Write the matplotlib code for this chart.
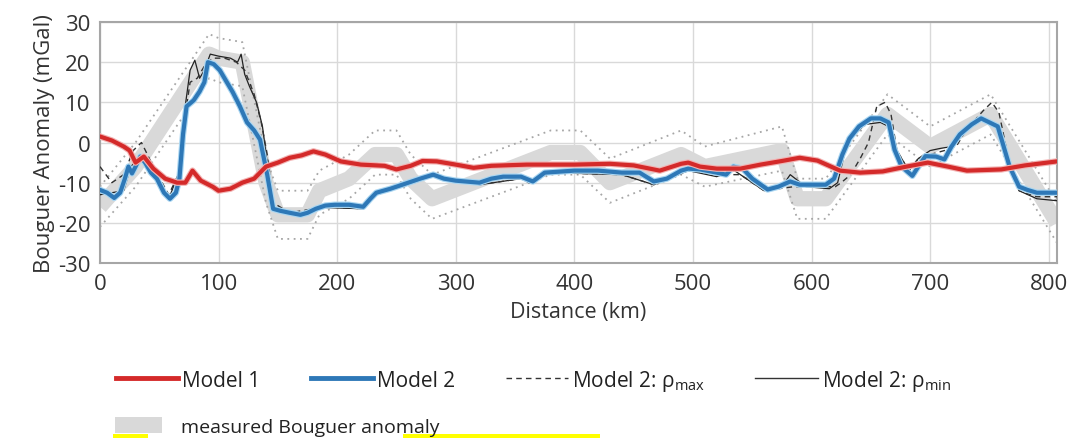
import matplotlib
matplotlib.use("Agg")
import matplotlib.pyplot as plt
import matplotlib.patheffects as pe
from matplotlib.lines import Line2D
from matplotlib.patches import Patch, Rectangle

plt.rcParams["font.family"] = ["Open Sans", "DejaVu Sans"]
plt.rcParams["axes.unicode_minus"] = False

# measured Bouguer anomaly (band centre) and its dotted envelope
meas_x = [0, 30, 92, 100, 120, 140, 150, 175, 185, 210, 232, 250, 262, 280, 380, 405,
          430, 490, 510, 575, 588, 612, 664, 700, 751, 807]
meas_y = [-16, -6, 22, 21, 20, -10, -18, -18, -12, -9, -3, -3, -9, -14, -2.5, -2.5,
          -10, -3, -6, -2, -14, -14, 7, -1, 7, -20]
env_hi = [-11, 0, 27, 26, 25, -4, -12, -12, -7, -3, 3, 3, -3, -8, 3, 3,
          -4, 3, -1, 4, -9, -9, 12, 4, 12, -15]
env_lo = [-21, -11, 16, 15, 14, -15, -24, -24, -18, -14, -8, -8, -14, -19, -8, -8,
          -15, -8, -11, -7, -19, -19, 2, -6, 2, -25]

# Model 1
m1_x = [0, 10, 20, 25, 30, 37, 45, 55, 65, 72, 78, 85, 95, 100, 110, 120, 130, 140,
        150, 160, 170, 180, 190, 203, 220, 240, 250, 262, 272, 284, 300, 315, 330, 360,
        400, 430, 450, 472, 490, 496, 506, 520, 540, 557, 575, 590, 605, 624, 641, 660,
        680, 698, 715, 731, 760, 780, 807]
m1_y = [1.5, 0.5, -1, -2, -5, -3.5, -6.5, -9, -10, -10, -7, -9.5, -11, -12, -11.5, -10, -9, -6,
        -5, -3.8, -3.2, -2.2, -3, -4.7, -5.5, -5.8, -6.7, -5.8, -4.6, -4.7, -5.5, -6.3, -5.8, -5.5,
        -5.5, -5.3, -5.7, -7, -5.3, -5, -6, -6.5, -6.5, -5.5, -4.6, -3.8, -4.5, -7, -7.5, -7.2,
        -6, -5, -6, -7, -6.7, -5.7, -4.7]

# Model 2
m2_x = [0, 6, 12, 17, 21, 24, 27, 30, 34, 38, 43, 48, 54, 59, 64, 67, 70, 73, 79, 84,
        88, 91, 96, 101, 106, 112, 118, 124, 130, 135, 141, 146, 152, 160, 169, 175, 182, 190,
        198, 210, 222, 228, 233, 245, 255, 270, 281, 290, 300, 320, 330, 340, 355, 365, 375,
        400, 420, 440, 455, 467, 478, 490, 496, 506, 520, 528, 534, 542, 550, 563, 572, 582,
        590, 600, 612, 619, 626, 632, 640, 650, 658, 665, 670, 676, 685, 690, 696, 705, 712,
        718, 725, 735, 743, 750, 757, 762, 767, 775, 782, 790, 800, 807]
m2_y = [-11.8, -12.5, -13.8, -12.5, -9, -6, -7.7, -6, -3.5, -5, -7.5, -9, -12.5, -14, -12.5, -9, 2, 9, 10.5, 12.7,
        15, 20, 19.5, 18, 15.5, 12.5, 9, 5, 3, 0.7, -8, -16.5, -17, -17.5, -18, -17.5, -16.5, -15.7,
        -15.5, -15.5, -16, -14, -12.5, -11.5, -10.5, -9, -8, -9, -9.5, -10, -9, -8.5, -8.5, -9.7, -7.5,
        -7, -7, -7.5, -7.5, -9.7, -9, -7, -6.5, -6.7, -7.5, -8, -6, -6.5, -9, -11.7, -11, -9.7,
        -10.5, -10.5, -10.5, -9, -3, 1, 4, 6, 6, 5, -1.8, -6, -8.3, -6, -3.4, -3.5, -4.2,
        -1, 2, 4.5, 6, 5, 4, -1, -6, -11, -11.8, -12.5, -12.5, -12.5]

# Model 2: rho_max (dashed)
rmax_x = [0, 10, 20, 28, 35, 45, 58, 66, 70, 76, 82, 88, 95, 105, 115, 122, 130, 136,
          141, 146, 160, 190, 222, 233, 255, 280, 320, 355, 362, 380, 440, 467, 496, 520,
          540, 560, 585, 600, 620, 625, 633, 641, 648, 655, 662, 667, 672, 682, 690, 700,
          712, 722, 730, 745, 752, 758, 766, 775, 790, 807]
rmax_y = [-6, -10, -8, -2, 0, -6, -13, -8, 3, 15, 16, 19, 21, 21, 20, 18, 12, 5,
          -3, -15, -17.5, -16, -16.5, -13, -11, -8.5, -10.5, -9, -10, -7.5, -8, -10.5, -7, -8,
          -8, -12, -11, -11, -11, -10, -8, -4, 0, 9, 10, 7, -2, -7, -4, -3,
          -2, -1, 3, 8, 10, 7.5, -4, -12, -13.5, -13.5]

# Model 2: rho_min (thin solid)
rmin_x = [0, 20, 26, 36, 45, 58, 66, 70, 76, 80, 84, 88, 93, 100, 110, 116, 119, 122,
          126, 132, 137, 141, 146, 160, 190, 222, 233, 255, 280, 320, 355, 362, 380, 440,
          467, 496, 520, 535, 550, 560, 575, 582, 595, 615, 622, 630, 645, 658, 665, 672,
          682, 690, 700, 708, 718, 728, 743, 755, 765, 775, 790, 807]
rmin_y = [-13, -12, -6, -3, -8, -14, -8, 5, 18, 20.5, 16, 18, 22, 21.5, 21, 20, 22, 17,
          14, 10, 4, -5, -16, -18, -16.2, -16.5, -13, -11, -8.5, -10.5, -9, -10, -7.5, -8,
          -10.5, -7, -8.5, -7, -10, -12, -11, -8, -11, -11.5, -10, 0, 4.5, 5, 4, -2,
          -7, -4, -2, -1.5, -1, 2.5, 5.5, 4, -3, -12, -14, -14.5]

fig = plt.figure(figsize=(10.75, 4.39), dpi=100)
ax = fig.add_axes([0.093, 0.3986, 0.8903, 0.549])

ax.plot(meas_x, meas_y, color="#d9d9d9", lw=11, solid_joinstyle="round",
        solid_capstyle="butt", zorder=1)
ax.plot(meas_x, env_hi, color="#a6a6a6", lw=1.3, ls=(0, (1, 2.5)), zorder=2)
ax.plot(meas_x, env_lo, color="#a6a6a6", lw=1.3, ls=(0, (1, 2.5)), zorder=2)
ax.plot(rmin_x, rmin_y, color="#222222", lw=0.9, zorder=3)
ax.plot(rmax_x, rmax_y, color="#333333", lw=1.0, ls=(0, (4, 3)), zorder=3)
ax.plot(m2_x, m2_y, color="#2e78b7", lw=3.0, zorder=4,
        path_effects=[pe.Stroke(linewidth=4.6, foreground="#a9d6f2"), pe.Normal()])
ax.plot(m1_x, m1_y, color="#d42a2a", lw=3.0, zorder=5,
        path_effects=[pe.Stroke(linewidth=4.6, foreground="#f2b3b3"), pe.Normal()])

ax.set_xlim(0, 807)
ax.set_ylim(-30, 30)
ax.set_xticks(range(0, 801, 100))
ax.set_yticks(range(-30, 31, 10))
ax.grid(True, color="#d9d9d9", lw=1)
ax.set_axisbelow(True)
ax.tick_params(length=0, labelsize=16, colors="#333333", pad=7)
for s in ax.spines.values():
    s.set_color("#a6a6a6")
    s.set_linewidth(1.5)
ax.set_xlabel("Distance (km)", fontsize=15.5, color="#333333", labelpad=5)
ax.set_ylabel("Bouguer Anomaly (mGal)", fontsize=16, color="#333333", labelpad=2)

handles = [
    Line2D([], [], color="#d42a2a", lw=3.5),
    Line2D([], [], color="#2e78b7", lw=3.5),
    Line2D([], [], color="#333333", lw=1.0, ls=(0, (4, 3))),
    Line2D([], [], color="#333333", lw=1.0),
]
labels = ["Model 1", "Model 2", "Model 2: ρ$_{\\mathregular{max}}$", "Model 2: ρ$_{\\mathregular{min}}$"]
fig.legend(handles, labels, loc="center left", bbox_to_anchor=(0.1, 0.132), frameon=False,
           ncol=4, fontsize=15, handlelength=3.0, handletextpad=0.2, columnspacing=2.4,
           borderaxespad=0, labelcolor="#222222")
fig.legend([Patch(facecolor="#d9d9d9", edgecolor="none")], ["measured Bouguer anomaly"],
           loc="center left", bbox_to_anchor=(0.1, 0.027), frameon=False, fontsize=14,
           handlelength=2.4, handleheight=0.9, handletextpad=1.0, borderaxespad=0,
           labelcolor="#222222")

fig.add_artist(Rectangle((113 / 1075, 0), 35 / 1075, 4 / 439, transform=fig.transFigure,
                         color="#ffff00", lw=0))
fig.add_artist(Rectangle((403 / 1075, 0), 197 / 1075, 4 / 439, transform=fig.transFigure,
                         color="#ffff00", lw=0))

fig.savefig("out.png", dpi=100)
